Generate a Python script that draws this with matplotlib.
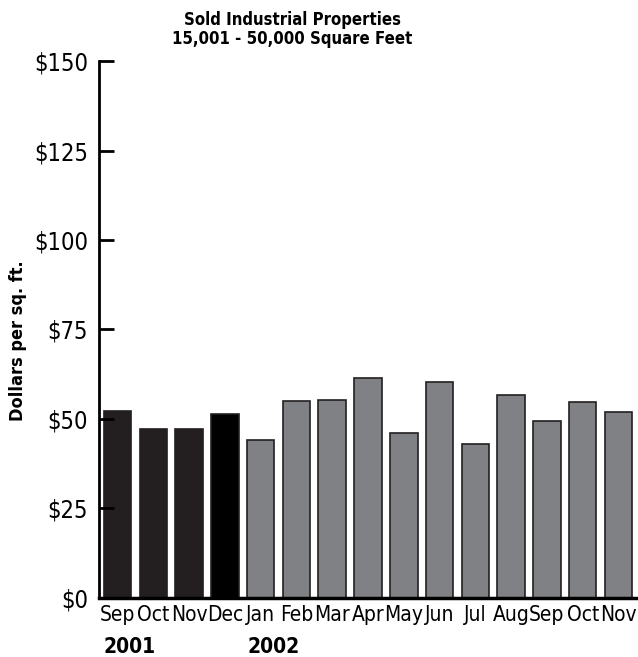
import matplotlib
matplotlib.use("Agg")
import matplotlib.pyplot as plt

plt.rcParams['font.family'] = ['DejaVu Sans']
plt.rcParams['font.stretch'] = 'condensed'

months = ["Sep", "Oct", "Nov", "Dec", "Jan", "Feb", "Mar", "Apr",
          "May", "Jun", "Jul", "Aug", "Sep", "Oct", "Nov"]
values = [52.2, 47.3, 47.1, 51.5, 44.2, 55.1, 55.4, 61.5,
          46.1, 60.4, 43.1, 56.7, 49.5, 54.7, 52.0]
colors = ["#231f20"] * 3 + ["#000000"] + ["#808184"] * 11
yticks = [0, 25, 50, 75, 100, 125, 150]
years = ["2001", "2002"]
year_pos = [0, 4]

fig = plt.figure(figsize=(6.38, 6.57), dpi=100)
ax = fig.add_axes([0.155, 0.09, 0.843, 0.817])

x = list(range(len(months)))
ax.bar(x, values, width=0.77, color=colors, edgecolor="#231f20", linewidth=1.2)

ax.set_xlim(-0.52, 14.51)
ax.set_ylim(0, 150)
ax.set_yticks(yticks)
ax.set_yticklabels([f"${v}" for v in yticks], fontsize=17)
ax.set_xticks(x)
ax.set_xticklabels(months, fontsize=15)
ax.tick_params(axis="y", direction="in", length=11, width=2, pad=8)
ax.tick_params(axis="x", length=0, pad=5)

for s in ["top", "right"]:
    ax.spines[s].set_visible(False)
ax.spines["left"].set_linewidth(2)
ax.spines["bottom"].set_linewidth(2.5)

for yr, p in zip(years, year_pos):
    ax.text(p - 0.38, -0.091, yr, transform=ax.get_xaxis_transform(),
            fontsize=15, fontweight="bold", ha="left", va="center")

fig.text(0.028, 0.481, "Dollars per sq. ft.", rotation=90, fontsize=13,
         fontweight="bold", ha="center", va="center")
fig.text(0.458, 0.955, "Sold Industrial Properties\n15,001 - 50,000 Square Feet",
         fontsize=12, fontweight="bold", ha="center", va="center",
         linespacing=1.05)

fig.savefig("out.png", dpi=100)
